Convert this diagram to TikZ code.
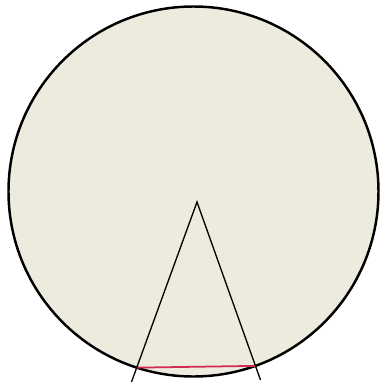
\documentclass[tikz,border=0pt]{standalone}
\usepackage{xcolor}
\usepackage{tikz}
\usetikzlibrary{intersections}

\definecolor{discfill}{RGB}{237,234,222}
\definecolor{chordred}{RGB}{210,45,80}

\begin{document}
\begin{tikzpicture}[
    x=0.02cm, y=-0.02cm,
    rim/.style={draw=black, line width=1.4pt, fill=discfill},
    ray/.style={draw=black, line width=0.75pt},
    chord/.style={draw=chordred, line width=1pt}
]
    \useasboundingbox (0, 0) rectangle (382, 390);

    % Disc and the angle inside it.
    \coordinate (centre) at (193.5, 191.5);
    \coordinate (apex) at (197, 202);
    \coordinate (leftend) at (131.5, 382);
    \coordinate (rightend) at (260.5, 380);
    \path[rim, name path=disc] (centre) circle[radius=185];

    \path[name path=leftray] (apex) -- (leftend);
    \path[name path=rightray] (apex) -- (rightend);
    \path[name intersections={of=disc and leftray, by=lefthit}];
    \path[name intersections={of=disc and rightray, by=righthit}];

    \draw[chord] (lefthit) -- (righthit);
    \draw[ray] (leftend) -- (apex) -- (rightend);

\end{tikzpicture}
\end{document}
